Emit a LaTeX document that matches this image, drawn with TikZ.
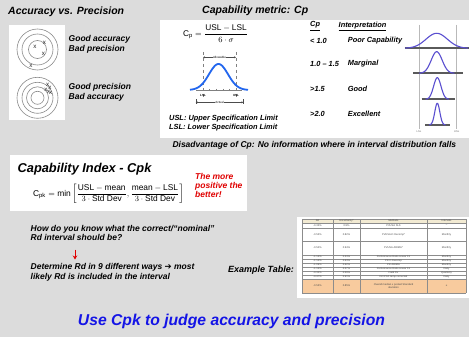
\documentclass[tikz,border=0pt]{standalone}
\usepackage{fontspec}
\usepackage{amsmath}
\setmainfont{Liberation Sans}
\newfontfamily\symfont{DejaVu Sans}
\usetikzlibrary{arrows.meta}
\definecolor{bg}{HTML}{DCDCDC}
\definecolor{ringc}{HTML}{8A8A8A}
\definecolor{cpblue}{HTML}{2266EE}
\definecolor{curvep}{HTML}{5A4FD0}
\definecolor{basec}{HTML}{5A5A5A}
\definecolor{redt}{HTML}{E00000}
\definecolor{bigblue}{HTML}{1414E6}
\definecolor{peach}{HTML}{F8CB9E}
\definecolor{headc}{HTML}{F2EAD2}
\definecolor{gridc}{HTML}{8C8C8C}
\newcommand\tabrow[6]{%
  \node[tcell] (#1a) at (317.5,#2) {#3};
  \node[tcell] (#1b) at (346.5,#2) {#4};
  \node[tcell] (#1c) at (393.5,#2) {#5};
  \node[tcell] (#1d) at (446.5,#2) {#6};}
\begin{document}
\begin{tikzpicture}[x=1pt,y=-1pt,
  ttl/.style={font=\fontsize{10.5}{12}\selectfont\bfseries\itshape, inner sep=0pt, anchor=west},
  bodyt/.style={font=\fontsize{8.5}{10}\selectfont\bfseries\itshape, inner sep=0pt, anchor=west},
  smallt/.style={font=\fontsize{7.4}{9}\selectfont\bfseries\itshape, inner sep=0pt, anchor=west},
  xmark/.style={font=\fontsize{6.2}{6}\selectfont, inner sep=0pt, text=black!85},
  ring/.style={draw=ringc, line width=0.6pt},
  tiny/.style={font=\fontsize{3}{3}\selectfont\bfseries, inner sep=0.3pt},
  tcell/.style={font=\fontsize{2.6}{2.9}\selectfont, inner sep=0pt, text=black!70, align=center},
  gridl/.style={draw=gridc, line width=0.3pt},
  base/.style={draw=basec, line width=1.6pt},
  gcurve/.style={draw=curvep, line width=1.1pt}
]
\useasboundingbox (0,0) rectangle (469,337);
\fill[bg] (0,0) rectangle (469,337);

% ---------- Accuracy vs precision ----------
\node[ttl] (acctitle) at (8,12) {Accuracy vs. Precision};
\fill[white] (9,25) rectangle (65,120);
\coordinate (t1) at (37.5,49.5);
\coordinate (t2) at (37.5,97.8);
\foreach \r in {20.5,15.5,9} \draw[ring] (t1) circle (\r);
\foreach \r in {20.5,15.5,11,6.5} \draw[ring] (t2) circle (\r);
\node[xmark] (x1) at (35,46.7) {x};
\node[xmark] (x2) at (44.3,43.3) {x};
\node[xmark] (x3) at (43.3,54.3) {x};
\node[xmark] (x4) at (31,65.7) {x};
\node[xmark] (x5) at (47.7,85) {x};
\node[xmark] (x6) at (50,88.3) {x};
\node[xmark] (x7) at (46,90.3) {x};
\node[xmark] (x8) at (50.7,93.3) {x};
\node[xmark] (x9) at (48.3,91.5) {x};
\node[bodyt] (ga) at (68.5,39) {Good accuracy};
\node[bodyt] (bp) at (68.5,49) {Bad precision};
\node[bodyt] (gp) at (68.5,87.3) {Good precision};
\node[bodyt] (ba) at (68.5,97.7) {Bad accuracy};

% ---------- Capability metric Cp ----------
\node[ttl] (cptitle) at (202,10.7) {Capability metric: Cp};
\fill[white] (160,20) rectangle (469,138);
\node[inner sep=0pt, font=\fontsize{8.3}{10}\selectfont] (cpf) at (215.5,33.5)
  {$\text{C}_\text{p}=\dfrac{\text{USL}-\text{LSL}}{6\cdot\sigma}$};

% bell figure
\draw[gray, line width=0.4pt] (196,90) -- (242,90);
\foreach \t in {203,209.6,216.2,222.8,229.4,236} \draw[gray, line width=0.4pt] (\t,88.8) -- (\t,91.4);
\draw[gray, dashed, line width=0.4pt] (203,52) -- (203,97);
\draw[gray, dashed, line width=0.4pt] (236,52) -- (236,97);
\coordinate (alL) at (203,57.3);
\coordinate (alR) at (236,57.3);
\draw[black!70, line width=0.4pt, {Stealth[length=2pt,width=2pt]}-{Stealth[length=2pt,width=2pt]}] (alL) -- (alR);
\node[tiny, fill=white, font=\fontsize{3}{3}\selectfont] (allow) at (219.5,57.3) {Allowable};
\draw[cpblue, line width=1.8pt] plot[domain=190:248, samples=70] (\x,{90-26*exp(-((\x-218.5)^2)/(2*9.5^2))});
\node[tiny] (lslA) at (203,95.7) {LSL};
\node[tiny] (uslA) at (236,95.7) {USL};
\coordinate (acL) at (195.7,102.3);
\coordinate (acR) at (243.3,102.3);
\draw[black!70, line width=0.4pt] (195.7,99.5) -- (195.7,104.5) (243.3,99.5) -- (243.3,104.5);
\draw[black!70, line width=0.4pt, {Stealth[length=2pt,width=2pt]}-{Stealth[length=2pt,width=2pt]}] (acL) -- (acR);
\node[tiny, fill=white, font=\fontsize{3}{3}\selectfont] (actual) at (219.5,102.3) {Actual};

\node[smallt] (usldef) at (169,118.3) {USL: Upper Specification Limit};
\node[smallt] (lsldef) at (169,127.7) {LSL: Lower Specification Limit};

% interpretation table
\node[smallt] (hcp) at (310,26) {\underline{Cp}};
\node[smallt] (hint) at (338.5,26) {\underline{Interpretation}};
\node[smallt] (v1) at (310,40.7) {< 1.0};
\node[smallt] (v2) at (310,64) {1.0 – 1.5};
\node[smallt] (v3) at (310,89) {>1.5};
\node[smallt] (v4) at (310,113.7) {>2.0};
\node[smallt] (i1) at (347.7,40.7) {Poor Capability};
\node[smallt] (i2) at (347.7,64) {Marginal};
\node[smallt] (i3) at (347.7,89) {Good};
\node[smallt] (i4) at (347.7,113.7) {Excellent};

% right small figure
\draw[gray!55, line width=0.5pt] (419,25) -- (419,129);
\draw[gray!55, line width=0.5pt] (456.7,25) -- (456.7,129);
\draw[base] (405,48.3) -- (469,48.3);
\draw[base] (413,73.3) -- (463,73.3);
\draw[base] (421.7,99.3) -- (455,99.3);
\draw[base] (425,125) -- (450,125);
\draw[gcurve] plot[domain=405:468, samples=70] (\x,{48.3-15*exp(-((\x-436.7)^2)/(2*10.7^2))});
\draw[gcurve] plot[domain=419:454.5, samples=60] (\x,{73.3-21.6*exp(-((\x-436.7)^2)/(2*5.5^2))});
\draw[gcurve] plot[domain=425.5:449, samples=60] (\x,{99.3-21.6*exp(-((\x-437.3)^2)/(2*3.7^2))});
\draw[gcurve] plot[domain=429:445.6, samples=60] (\x,{125-21.7*exp(-((\x-437.3)^2)/(2*2.5^2))});
\node[tiny, font=\fontsize{2.6}{2.6}\selectfont, text=black!60] (lslB) at (419,131.7) {LSL};
\node[tiny, font=\fontsize{2.6}{2.6}\selectfont, text=black!60] (uslB) at (456.7,131.7) {USL};

\node[bodyt] (disadv) at (172.3,145.5) {Disadvantage of Cp: No information where in interval distribution falls};

% ---------- Cpk ----------
\fill[white] (10,155) rectangle (247,211);
\node[inner sep=0pt, anchor=west, font=\fontsize{12.8}{14}\selectfont\bfseries\itshape] (cpktitle) at (17.5,169.5) {Capability Index - Cpk};
\node[inner sep=0pt, font=\fontsize{8.4}{10}\selectfont] (cpkf) at (108.5,194)
  {$\text{C}_\text{pk}=\text{min}\left[\dfrac{\text{USL}-\text{mean}}{3\cdot\text{Std Dev}},\dfrac{\text{mean}-\text{LSL}}{3\cdot\text{Std Dev}}\right]$};
\node[bodyt, text=redt, align=left, font=\fontsize{8.5}{9.2}\selectfont\bfseries\itshape] (better) at (195,185.3) {The more\\positive the\\better!};

% ---------- question ----------
\node[bodyt, align=left, font=\fontsize{8.5}{9.6}\selectfont\bfseries\itshape] (question) at (30.5,233) {How do you know what the correct/“nominal”\\Rd interval should be?};
\coordinate (arrS) at (75,249.5);
\coordinate (arrE) at (75,259.5);
\draw[redt, line width=1pt, -{Stealth[length=4pt,width=4.5pt]}] (arrS) -- (arrE);
\node[bodyt, align=left, font=\fontsize{8.5}{10}\selectfont\bfseries\itshape] (determine) at (30.5,272.7) {Determine Rd in 9 different ways {\symfont\bfseries\upshape ➔} most\\likely Rd is included in the interval};
\node[bodyt, font=\fontsize{9}{10}\selectfont\bfseries\itshape] (example) at (228,270.5) {Example Table:};

% ---------- example table ----------
\fill[white] (297,217) rectangle (469,298);
\fill[headc] (302,219) rectangle (466,223);
\fill[peach] (302,279) rectangle (466,293);
\foreach \yy in {219,223,228,241,255,259,263,267,271,275,279,293} \draw[gridl] (302,\yy) -- (466,\yy);
\foreach \xx in {302,333,360,427,466} \draw[gridl] (\xx,219) -- (\xx,293);
\tabrow{h}{221}{Rd}{Uncertainty*}{Methods}{Intervals}
\tabrow{ra}{225.5}{-0.33\%}{0.9\%}{PVUSA SLS}{--}
\tabrow{rb}{234.5}{-0.53\%}{0.82\%}{PVUSA-D Decomp*}{Monthly}
\tabrow{rc}{248}{-0.52\%}{0.94\%}{PVUSA ARIMA*}{Monthly}
\tabrow{rd}{257}{-1.13\%}{0.33\%}{Performance Ratio Linear Fit}{Monthly}
\tabrow{re}{261}{-1.14\%}{0.63\%}{PR D Decomp}{Monthly}
\tabrow{rf}{265}{-1.09\%}{0.62\%}{PR ARIMA}{Monthly}
\tabrow{rg}{269}{-1.15\%}{0.37\%}{Performance Ratio Linear Fit}{Daily}
\tabrow{rh}{273}{-0.32\%}{0.59\%}{Field SV}{Quarterly}
\tabrow{ri}{277}{-0.47\%}{0.91\%}{DC/PCA temp corrected}{Daily}
\tabrow{rj}{286}{-0.53\%}{0.85\%}{Overall median ± pooled Standard\\deviation}{±}

% ---------- bottom line ----------
\node[inner sep=0pt, text=bigblue, font=\fontsize{15.7}{18}\selectfont\bfseries\itshape] (usecpk) at (231.5,321) {Use Cpk to judge accuracy and precision};
\end{tikzpicture}
\end{document}
